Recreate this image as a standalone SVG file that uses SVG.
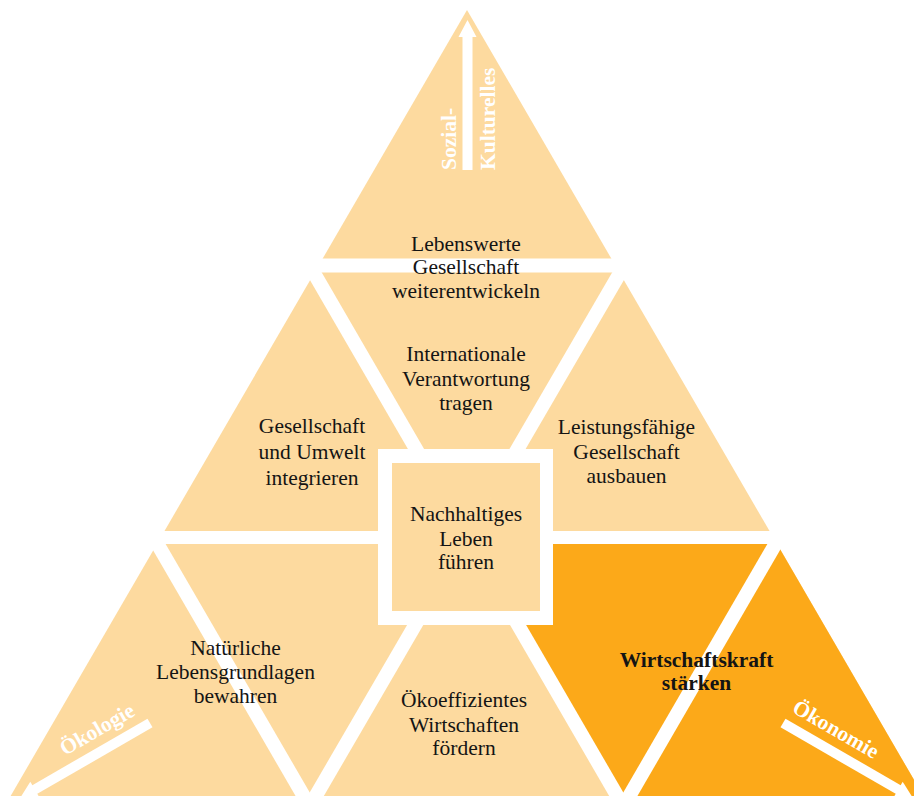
<svg xmlns="http://www.w3.org/2000/svg" width="914" height="796" viewBox="0 0 914 796">
  <style>
    .peach { fill: #FDDA9F; }
    .dark { fill: #FCA919; }
    .gap { stroke: #FFFFFF; stroke-width: 14; fill: none; }
    .lbl { font-family: "Liberation Serif", "Times New Roman", serif; font-size: 21.5px; fill: #141414; text-anchor: middle; }
    .bold { font-weight: bold; }
    .axis { font-family: "Liberation Serif", "Times New Roman", serif; font-size: 21.5px; font-weight: bold; fill: #FFFFFF; }
    .arrow { fill: #FFFFFF; }
  </style>
  <rect x="0" y="0" width="914" height="796" fill="#FFFFFF"/>

  <!-- background shapes -->
  <g id="background">
    <polygon class="peach" points="467,10 8.3,800 925.7,800"/>
    <polygon class="dark" points="467.4,537.5 773.3,537.5 925.7,800 619.6,800"/>
  </g>

  <!-- white separating bands (connectors) -->
  <g id="connectors">
    <line class="gap" x1="0" y1="265.5" x2="914" y2="265.5"/>
    <line class="gap" x1="0" y1="537.5" x2="914" y2="537.5" style="stroke-width:13"/>
    <line class="gap" x1="271.6" y1="200" x2="619.6" y2="800"/>
    <line class="gap" x1="662.4" y1="200" x2="313.4" y2="800"/>
    <line class="gap" x1="120.4" y1="480" x2="306.0" y2="800"/>
    <line class="gap" x1="812.6" y1="480" x2="627.0" y2="800"/>
  </g>

  <!-- centre square -->
  <g id="center">
    <rect x="378" y="449" width="175" height="176" fill="#FFFFFF"/>
    <rect class="peach" x="392" y="463" width="148" height="148"/>
    <text class="lbl"><tspan x="466" y="520.7">Nachhaltiges</tspan><tspan x="466" y="545.5">Leben</tspan><tspan x="466" y="569">führen</tspan></text>
  </g>

  <g id="node-lebenswerte">
    <text class="lbl"><tspan x="466" y="250.5">Lebenswerte</tspan><tspan x="466" y="274">Gesellschaft</tspan><tspan x="466" y="298">weiterentwickeln</tspan></text>
  </g>
  <g id="node-international">
    <text class="lbl"><tspan x="466" y="361">Internationale</tspan><tspan x="466" y="385.5">Verantwortung</tspan><tspan x="466" y="410">tragen</tspan></text>
  </g>
  <g id="node-gesellschaft-umwelt">
    <text class="lbl"><tspan x="312" y="433">Gesellschaft</tspan><tspan x="312" y="459">und Umwelt</tspan><tspan x="312" y="484.5">integrieren</tspan></text>
  </g>
  <g id="node-leistungsfaehige">
    <text class="lbl"><tspan x="626.5" y="433.5">Leistungsfähige</tspan><tspan x="626.5" y="458.5">Gesellschaft</tspan><tspan x="626.5" y="483">ausbauen</tspan></text>
  </g>
  <g id="node-natuerliche">
    <text class="lbl"><tspan x="235.5" y="655">Natürliche</tspan><tspan x="235.5" y="679.3">Lebensgrundlagen</tspan><tspan x="235.5" y="703">bewahren</tspan></text>
  </g>
  <g id="node-oekoeffizient">
    <text class="lbl"><tspan x="464" y="706.7">Ökoeffizientes</tspan><tspan x="464" y="731.7">Wirtschaften</tspan><tspan x="464" y="755">fördern</tspan></text>
  </g>
  <g id="node-wirtschaftskraft">
    <text class="lbl bold"><tspan x="696.5" y="666.7">Wirtschaftskraft</tspan><tspan x="696.5" y="690">stärken</tspan></text>
  </g>

  <!-- axis arrows -->
  <g id="axis-sozial">
    <rect class="arrow" x="462.5" y="36" width="10" height="134"/>
    <polygon class="arrow" points="458.5,37 476.5,37 467.5,20"/>
    <text class="axis" transform="translate(456,170) rotate(-90)">Sozial-</text>
    <text class="axis" transform="translate(495,170) rotate(-90)">Kulturelles</text>
  </g>
  <g id="axis-oekologie">
    <g transform="translate(150,723) rotate(150)">
      <rect class="arrow" x="0" y="-5" width="134" height="10"/>
      <polygon class="arrow" points="133,-9 150,0 133,9"/>
    </g>
    <text class="axis" text-anchor="middle" transform="translate(100.6,735.4) rotate(-30)">Ökologie</text>
  </g>
  <g id="axis-oekonomie">
    <g transform="translate(783,723) rotate(30)">
      <rect class="arrow" x="0" y="-5" width="134" height="10"/>
      <polygon class="arrow" points="133,-9 150,0 133,9"/>
    </g>
    <text class="axis" text-anchor="middle" transform="translate(832.4,735.4) rotate(30)">Ökonomie</text>
  </g>
</svg>
